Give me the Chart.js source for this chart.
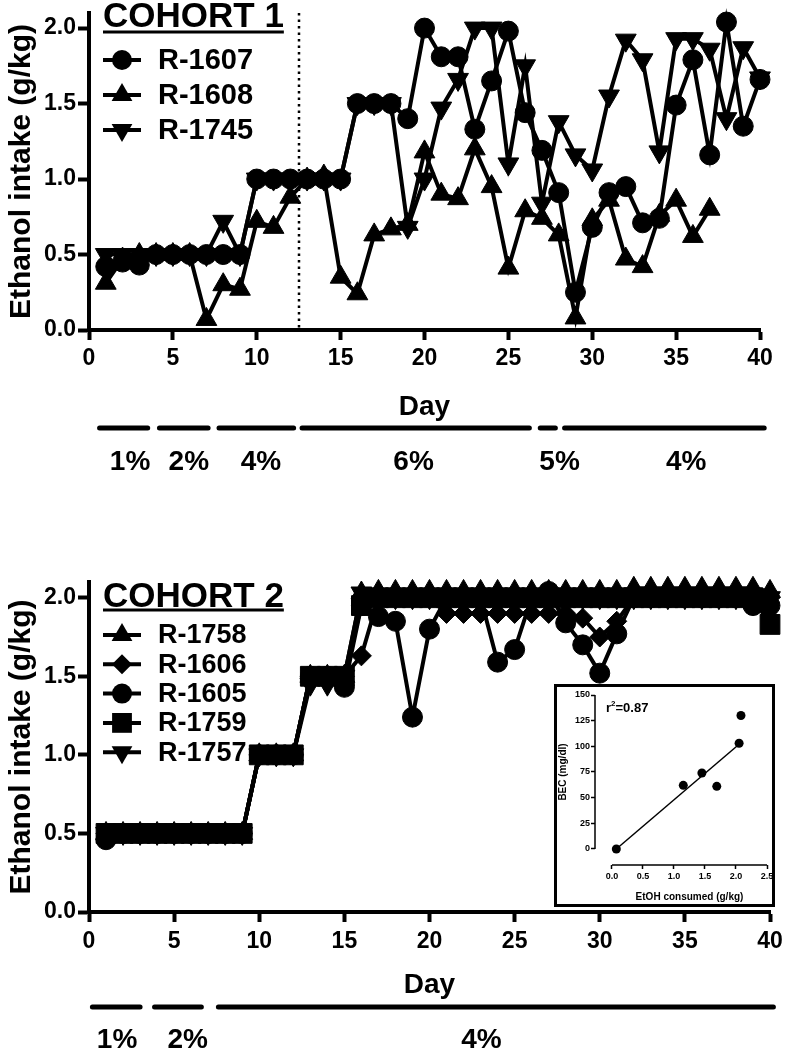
<!DOCTYPE html>
<html>
<head>
<meta charset="utf-8">
<script src="https://cdn.jsdelivr.net/npm/chart.js@4.4.1/dist/chart.umd.min.js"></script>
<style>
  html, body { margin: 0; padding: 0; background: #fff; }
  #page { position: relative; width: 785px; height: 1050px; overflow: hidden; }
  #c1 { position: absolute; left: 0; top: 0; }
  #c2 { position: absolute; left: 0; top: 560px; }
  #inset { position: absolute; left: 554px; top: 684px; width: 215px; height: 217px;
           border: 3px solid #000; background: #fff; }
  #inset canvas { display: block; }
</style>
</head>
<body>
<div id="page">
  <canvas id="c1" width="785" height="490"></canvas>
  <canvas id="c2" width="785" height="490"></canvas>
  <div id="inset"><canvas id="c3" width="215" height="217"></canvas></div>
</div>
<script>
// ---- data ----
const days = [1, 2, 3, 4, 5, 6, 7, 8, 9, 10, 11, 12, 13, 14, 15, 16, 17, 18, 19, 20,
              21, 22, 23, 24, 25, 26, 27, 28, 29, 30, 31, 32, 33, 34, 35, 36, 37, 38, 39, 40];

// cohort 1
const r1607 = [0.42, 0.45, 0.43, 0.5, 0.5, 0.5, 0.5, 0.5, 0.5, 1.0, 1.0, 1.0, 1.0, 1.0, 1.0, 1.5, 1.5, 1.5, 1.4, 2.0,
               1.81, 1.81, 1.33, 1.65, 1.98, 1.44, 1.19, 0.91, 0.25, 0.68, 0.91, 0.95, 0.71, 0.74, 1.49, 1.79, 1.16, 2.04, 1.35, 1.66];
const r1608 = [0.31, 0.47, 0.5, 0.5, 0.5, 0.5, 0.07, 0.3, 0.27, 0.72, 0.68, 0.88, 1.0, 1.02, 0.35, 0.24, 0.63, 0.67, 0.7, 1.18,
               0.9, 0.87, 1.2, 0.95, 0.41, 0.79, 0.74, 0.63, 0.08, 0.73, 0.86, 0.47, 0.42, 0.76, 0.86, 0.62, 0.8, null, null, null];
const r1745 = [0.5, 0.5, 0.5, 0.5, 0.5, 0.5, 0.5, 0.72, 0.5, 1.0, 1.0, 1.0, 1.0, 1.0, 1.0, 1.5, 1.5, 1.5, 0.68, 1.0,
               1.47, 1.66, 2.0, 2.0, 1.1, 1.75, 0.84, 1.38, 1.16, 1.06, 1.55, 1.92, 1.79, 1.18, 1.93, 1.93, 1.86, 1.4, 1.87, 1.67];

// cohort 2
const r1758 = [0.5, 0.5, 0.5, 0.5, 0.5, 0.5, 0.5, 0.5, 0.5, 1.0, 1.0, 1.0, 1.5, 1.5, 1.5, 2.03, 2.04, 2.04, 2.04, 2.04,
               2.04, 2.04, 2.04, 2.04, 2.04, 2.04, 2.04, 2.04, 2.04, 2.04, 2.04, 2.06, 2.06, 2.06, 2.06, 2.06, 2.06, 2.06, 2.06, 2.04];
const r1606 = [0.5, 0.5, 0.5, 0.5, 0.5, 0.5, 0.5, 0.5, 0.5, 1.0, 1.0, 1.0, 1.5, 1.5, 1.5, 1.63, 2.0, 2.0, 2.0, 2.0,
               1.9, 1.9, 1.9, 1.9, 1.9, 1.9, 1.9, 1.9, 1.87, 1.75, 1.85, 2.0, 2.0, 2.0, 2.0, 2.0, 2.0, 2.0, 2.0, 2.0];
const r1605 = [0.46, 0.5, 0.5, 0.5, 0.5, 0.5, 0.5, 0.5, 0.5, 1.0, 1.0, 1.0, 1.5, 1.5, 1.43, 1.95, 1.88, 1.85, 1.24, 1.8,
               2.0, 2.0, 2.0, 1.59, 1.67, 2.0, 2.04, 1.84, 1.7, 1.52, 1.77, 2.0, 2.0, 2.0, 2.0, 2.0, 2.0, 2.0, 1.95, 1.95];
const r1759 = [0.5, 0.5, 0.5, 0.5, 0.5, 0.5, 0.5, 0.5, 0.5, 1.0, 1.0, 1.0, 1.5, 1.5, 1.5, 1.95, 2.0, 2.0, 2.0, 2.0,
               2.0, 2.0, 2.0, 2.0, 2.0, 2.0, 2.0, 2.0, 2.0, 2.0, 2.0, 2.0, 2.0, 2.0, 2.0, 2.0, 2.0, 2.0, 2.0, 1.83];
const r1757 = [0.5, 0.5, 0.5, 0.5, 0.5, 0.5, 0.5, 0.5, 0.5, 1.0, 1.0, 1.0, 1.45, 1.45, 1.5, 2.03, 2.0, 2.0, 2.0, 2.0,
               2.0, 2.0, 2.0, 2.0, 2.0, 2.0, 2.0, 2.0, 2.0, 2.0, 2.0, 2.0, 2.0, 2.0, 2.0, 2.0, 2.0, 2.0, 2.0, 2.0];

const intakeTicks = [0, 0.5, 1, 1.5, 2];
const dayTicks = [0, 5, 10, 15, 20, 25, 30, 35, 40];

// ethanol concentration phases (in days)
const phases1 = ['1%', '2%', '4%', '6%', '5%', '4%'];
const phase1Start = [0.63, 4.2, 7.75, 12.7, 26.9, 28.35];
const phase1End = [3.5, 7.1, 12.2, 26.25, 27.8, 40.25];
const phase1Mid = [2.45, 5.95, 10.25, 19.35, 28.05, 35.6];
const phases2 = ['1%', '2%', '4%'];
const phase2Start = [0.2, 3.85, 7.6];
const phase2End = [3.0, 6.6, 40.2];
const phase2Mid = [1.65, 5.8, 23.05];
const switchDay = 12.5;   // dotted line, cohort 1

// inset: BEC vs EtOH consumed
const etohX = [0.07, 1.15, 1.45, 1.69, 2.05, 2.08];
const becY = [0, 62, 74, 61, 103, 130];
const fitX = [0.07, 2.05];
const fitY = [0, 102];
const becTicks = [0, 25, 50, 75, 100, 125, 150];
const etohTicks = [0, 0.5, 1, 1.5, 2, 2.5];

const FONT = '"Liberation Sans", Arial, Helvetica, sans-serif';
Chart.defaults.font.family = FONT;
Chart.defaults.font.weight = 'bold';
Chart.defaults.color = '#000';

function drawMarker(ctx, style, r, rot, x, y) {
    ctx.beginPath();
    if (style === 'circle') {
        ctx.arc(x, y, r, 0, Math.PI * 2);
    } else if (style === 'triangle') {
        let a = (rot || 0) * Math.PI / 180;
        for (let k = 0; k < 3; k++) {
            const px = x + Math.sin(a) * r, py = y - Math.cos(a) * r;
            k ? ctx.lineTo(px, py) : ctx.moveTo(px, py);
            a += Math.PI * 2 / 3;
        }
        ctx.closePath();
    } else if (style === 'rect') {
        const s = Math.SQRT1_2 * r;
        ctx.rect(x - s, y - s, 2 * s, 2 * s);
    } else if (style === 'rectRot') {
        ctx.moveTo(x, y - r); ctx.lineTo(x + r, y); ctx.lineTo(x, y + r); ctx.lineTo(x - r, y);
        ctx.closePath();
    }
    ctx.fill();
}

const cohortLegend = {
    id: 'cohortLegend',
    afterDraw(chart, args, o) {
        const ctx = chart.ctx;
        ctx.save();
        ctx.fillStyle = '#000';
        ctx.strokeStyle = '#000';
        ctx.font = `bold ${o.titleSize}px ${FONT}`;
        ctx.textAlign = 'left';
        ctx.textBaseline = 'alphabetic';
        ctx.fillText(o.title, o.x, o.titleBaseline);
        const w = ctx.measureText(o.title).width;
        ctx.lineWidth = 3;
        ctx.beginPath(); ctx.moveTo(o.x, o.underline); ctx.lineTo(o.x + w, o.underline); ctx.stroke();

        ctx.font = `bold ${o.size}px ${FONT}`;
        ctx.textBaseline = 'middle';
        chart.data.datasets.forEach((ds, i) => {
            const y = o.rowTop + i * o.rowGap;
            ctx.lineWidth = ds.borderWidth;
            ctx.beginPath(); ctx.moveTo(o.x, y); ctx.lineTo(o.x + 38, y); ctx.stroke();
            drawMarker(ctx, ds.pointStyle, ds.pointRadius, ds.pointRotation, o.x + 19, y);
            ctx.fillText(ds.label, o.textX, y + 1);
        });
        ctx.restore();
    }
};

const phaseBars = {
    id: 'phaseBars',
    afterDraw(chart, args, o) {
        const ctx = chart.ctx, x = chart.scales.x;
        ctx.save();
        ctx.strokeStyle = '#000';
        ctx.fillStyle = '#000';
        ctx.lineWidth = 5;
        ctx.lineCap = 'round';
        o.starts.forEach((s, i) => {
            ctx.beginPath();
            ctx.moveTo(x.getPixelForValue(s), o.lineY);
            ctx.lineTo(x.getPixelForValue(o.ends[i]), o.lineY);
            ctx.stroke();
        });
        ctx.font = `bold 28px ${FONT}`;
        ctx.textAlign = 'center';
        ctx.textBaseline = 'middle';
        o.labels.forEach((t, i) => ctx.fillText(t, x.getPixelForValue(o.mids[i]), o.textY));
        ctx.restore();
    }
};

const divider = {
    id: 'divider',
    beforeDatasetsDraw(chart, args, o) {
        if (o.at == null) return;
        const {ctx, chartArea, scales} = chart;
        const px = Math.round(scales.x.getPixelForValue(o.at));
        ctx.save();
        ctx.strokeStyle = '#000';
        ctx.lineWidth = 2.5;
        ctx.setLineDash([2.5, 4]);
        ctx.beginPath(); ctx.moveTo(px, chartArea.top); ctx.lineTo(px, chartArea.bottom); ctx.stroke();
        ctx.restore();
    }
};

function series(label, data, style, r, rot) {
    return {
        label, data,
        borderColor: '#000', borderWidth: 4,
        pointStyle: style, pointRadius: r, pointRotation: rot || 0,
        pointBackgroundColor: '#000', pointBorderColor: '#000', pointBorderWidth: 1,
        tension: 0, clip: false
    };
}

function mainChart(id, datasets, cfg) {
    return new Chart(document.getElementById(id), {
        type: 'line',
        data: { labels: days, datasets },
        options: {
            responsive: false, animation: false,
            layout: { padding: cfg.padding },
            plugins: {
                legend: { display: false }, tooltip: { enabled: false },
                cohortLegend: cfg.legend, phaseBars: cfg.phases, divider: { at: cfg.divider }
            },
            scales: {
                x: {
                    type: 'linear', min: 0, max: 40,
                    afterBuildTicks: s => { s.ticks = dayTicks.map(v => ({ value: v })); },
                    afterFit: s => { s.height = cfg.xHeight; s.paddingLeft = 0; s.paddingRight = 0; },
                    border: { display: true, color: '#000', width: 4 },
                    grid: { display: true, drawOnChartArea: false, drawTicks: true, tickLength: 10, tickWidth: 4, tickColor: '#000' },
                    ticks: { color: '#000', font: { size: 23, weight: 'bold' }, padding: cfg.tickPad, maxRotation: 0, callback: v => v },
                    title: { display: true, text: 'Day', color: '#000', font: { size: 28, weight: 'bold' }, padding: { top: 0, bottom: 4 } }
                },
                y: {
                    min: 0, max: 2.1,
                    afterBuildTicks: s => { s.ticks = intakeTicks.map(v => ({ value: v })); },
                    afterFit: s => { s.width = 89; s.paddingTop = 0; s.paddingBottom = 0; },
                    border: { display: true, color: '#000', width: 4 },
                    grid: { display: true, drawOnChartArea: false, drawTicks: true, tickLength: 11, tickWidth: 4, tickColor: '#000' },
                    ticks: { color: '#000', font: { size: 23, weight: 'bold' }, padding: 2, callback: v => v.toFixed(1) },
                    title: { display: true, text: 'Ethanol intake (g/kg)', color: '#000', font: { size: 30, weight: 'bold' }, padding: { top: 4, bottom: 0 } }
                }
            }
        },
        plugins: [divider, cohortLegend, phaseBars]
    });
}

mainChart('c1', [
    series('R-1607', r1607, 'circle', 10),
    series('R-1608', r1608, 'triangle', 12),
    series('R-1745', r1745, 'triangle', 12, 180)
], {
    padding: { top: 6, right: 25, bottom: 62, left: 0 },
    xHeight: 98,
    tickPad: 5,
    divider: switchDay,
    legend: { title: 'COHORT 1', titleSize: 35, titleBaseline: 27, underline: 32, x: 103, textX: 158, size: 29, rowTop: 60, rowGap: 35 },
    phases: { starts: phase1Start, ends: phase1End, mids: phase1Mid, labels: phases1, lineY: 428, textY: 462 }
});

mainChart('c2', [
    series('R-1758', r1758, 'triangle', 12),
    series('R-1606', r1606, 'rectRot', 10),
    series('R-1605', r1605, 'circle', 10),
    series('R-1759', r1759, 'rect', 14),
    series('R-1757', r1757, 'triangle', 12, 180)
], {
    padding: { top: 22, right: 14, bottom: 44, left: 0 },
    xHeight: 94,
    tickPad: 6,
    divider: null,
    legend: { title: 'COHORT 2', titleSize: 35, titleBaseline: 47, underline: 50, x: 103, textX: 158, size: 27, rowTop: 75, rowGap: 29.3 },
    phases: { starts: phase2Start, ends: phase2End, mids: phase2Mid, labels: phases2, lineY: 447, textY: 480 }
});

// inset scatter with fit line
const insetAxes = {
    id: 'insetAxes',
    afterDraw(chart) {
        const {ctx, scales: {x, y}} = chart;
        const y0 = y.getPixelForValue(0), y150 = y.getPixelForValue(150);
        const x0 = x.getPixelForValue(0), x25 = x.getPixelForValue(2.5);
        ctx.save();
        ctx.strokeStyle = '#000';
        ctx.fillStyle = '#000';
        ctx.lineWidth = 1.5;
        ctx.beginPath();
        ctx.moveTo(x.left, y150); ctx.lineTo(x.left, y0);
        ctx.moveTo(x0, y.bottom); ctx.lineTo(x25, y.bottom);
        ctx.stroke();

        ctx.font = `bold 10px ${FONT}`;
        ctx.textAlign = 'center';
        ctx.textBaseline = 'middle';
        ctx.fillText('EtOH consumed (g/kg)', (x0 + x25) / 2, 210);
        ctx.save();
        ctx.translate(6, (y0 + y150) / 2);
        ctx.rotate(-Math.PI / 2);
        ctx.fillText('BEC (mg/dl)', 0, 0);
        ctx.restore();

        ctx.textAlign = 'left';
        ctx.textBaseline = 'alphabetic';
        ctx.font = `bold 13px ${FONT}`;
        let tx = 49;
        ctx.fillText('r', tx, 25);
        tx += ctx.measureText('r').width;
        ctx.font = `bold 8px ${FONT}`;
        ctx.fillText('2', tx, 19);
        tx += ctx.measureText('2').width;
        ctx.font = `bold 13px ${FONT}`;
        ctx.fillText('=0.87', tx, 25);
        ctx.restore();
    }
};

new Chart(document.getElementById('c3'), {
    type: 'scatter',
    data: {
        datasets: [
            { data: etohX.map((v, i) => ({ x: v, y: becY[i] })), pointRadius: 4.5, pointBorderWidth: 0,
              backgroundColor: '#000', borderColor: '#000', clip: false },
            { type: 'line', data: fitX.map((v, i) => ({ x: v, y: fitY[i] })), borderColor: '#000', borderWidth: 1.5,
              pointRadius: 0, showLine: true, clip: false }
        ]
    },
    options: {
        responsive: false, animation: false,
        layout: { padding: { top: 8, right: 5, bottom: 0, left: 0 } },
        plugins: { legend: { display: false }, tooltip: { enabled: false } },
        scales: {
            x: {
                type: 'linear', min: -0.274, max: 2.5,
                afterBuildTicks: s => { s.ticks = etohTicks.map(v => ({ value: v })); },
                afterFit: s => { s.height = 39; s.paddingLeft = 0; s.paddingRight = 0; },
                border: { display: false },
                grid: { display: true, drawOnChartArea: false, drawTicks: true, tickLength: 4, tickWidth: 1.5, tickColor: '#000' },
                ticks: { color: '#000', font: { size: 9, weight: 'bold' }, padding: 2, maxRotation: 0, callback: v => v.toFixed(1) }
            },
            y: {
                min: -15.6, max: 150,
                afterBuildTicks: s => { s.ticks = becTicks.map(v => ({ value: v })); },
                afterFit: s => { s.width = 38; s.paddingTop = 0; s.paddingBottom = 0; },
                border: { display: false },
                grid: { display: true, drawOnChartArea: false, drawTicks: true, tickLength: 4, tickWidth: 1.5, tickColor: '#000' },
                ticks: { color: '#000', font: { size: 9, weight: 'bold' }, padding: 1, callback: v => v }
            }
        }
    },
    plugins: [insetAxes]
});
</script>
</body>
</html>
